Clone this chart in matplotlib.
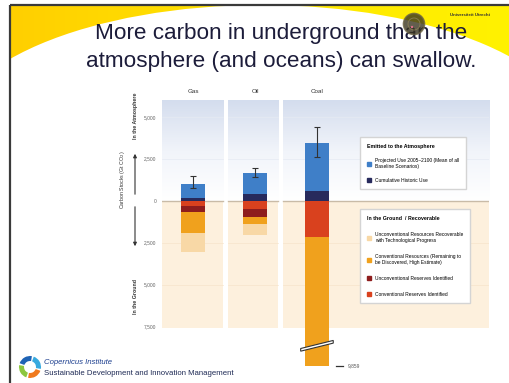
import numpy as np
import matplotlib
matplotlib.use('Agg')
import matplotlib.pyplot as plt
from matplotlib.patches import Patch, Ellipse, Wedge, Circle, Polygon, Rectangle
from matplotlib.colors import LinearSegmentedColormap

# carbon stocks, Gt CO2
fuels = ['Gas', 'Oil', 'Coal']
historic_use = [180, 400, 580]          # cumulative historic use
projected_use = [800, 1230, 2870]       # projected use 2005-2100
err_low = [775, 1390, 2580]
err_high = [1470, 1930, 4400]
conv_reserves = [315, 495, 2140]        # conventional reserves identified
unconv_reserves = [335, 455, 0]         # unconventional reserves identified
conv_resources = [1290, 440, 7719]      # conventional resources, high estimate
unconv_resources = [1090, 650, 0]       # unconventional resources w/ tech progress
coal_total_label = '9,859'

ytick_vals = [5000, 2500, 0, -2500, -5000, -7500]
ytick_text = ['5,000', '2,500', '0', '2,500', '5,000', '7,500']

c_blue = '#3f7fc8'
c_navy = '#272a5c'
c_red = '#d9411e'
c_dred = '#8e1d1d'
c_orange = '#f0a11d'
c_tan = '#f8d8a6'

W, H = 510, 383
fig = plt.figure(figsize=(W / 100, H / 100), dpi=100)
fig.patch.set_facecolor('white')

# slide background (pixel coordinates)
bg = fig.add_axes([0, 0, 1, 1], zorder=0)
bg.set_xlim(0, W)
bg.set_ylim(H, 0)
bg.axis('off')

swoosh = LinearSegmentedColormap.from_list('sw', ['#ffcf00', '#ffe600', '#fff200'])
bg.imshow(np.linspace(0, 1, 200).reshape(1, -1), cmap=swoosh, aspect='auto',
          extent=[10, W, 75, 5], zorder=1)
bg.add_patch(Ellipse((262, 140), 630, 270, facecolor='white', edgecolor='none', zorder=2))
bg.set_xlim(0, W)
bg.set_ylim(H, 0)
bg.plot([10, W], [5, 5], color='#3a3a3a', lw=1.6, zorder=5, solid_capstyle='butt')
bg.plot([10, 10], [5, H], color='#3a3a3a', lw=1.6, zorder=5, solid_capstyle='butt')

tfont = ['Liberation Sans', 'DejaVu Sans']
bg.text(281, 33, 'More carbon in underground than the', ha='center', va='center',
        fontsize=16.2, color='#1c1c3a', family=tfont, zorder=6)
bg.text(281, 61, 'atmosphere (and oceans) can swallow.', ha='center', va='center',
        fontsize=16.2, color='#1c1c3a', family=tfont, zorder=6)

# university emblem, top right
bg.add_patch(Circle((414, 24), 10.5, facecolor='#3b3622', edgecolor='#6a6244',
                    lw=1.2, alpha=0.8, zorder=7))
bg.add_patch(Circle((414, 24), 6, facecolor='none', edgecolor='#8a7e55', lw=0.6, zorder=8))
bg.add_patch(Circle((412, 27), 1.2, facecolor='#e0708a', edgecolor='none', zorder=8))
bg.text(470, 15.5, 'Universiteit Utrecht', fontsize=3.2, color='#333333', ha='center',
        va='center', fontweight='bold', family=tfont, zorder=8)

# institute logo, bottom left
ring = [(20, 100, '#f07a1e'), (110, 190, '#8cc63f'), (200, 280, '#1f63b5'), (290, 370, '#38a9de')]
for a0, a1, col in ring:
    bg.add_patch(Wedge((30, 367), 11, a0, a1, width=5, facecolor=col, edgecolor='none', zorder=6))
bg.text(44, 363, 'Copernicus Institute', fontsize=5.6, style='italic', color='#1d3f8f',
        va='center', family=tfont, zorder=6)
bg.text(44, 373.5, 'Sustainable Development and Innovation Management', fontsize=5.6,
        color='#1e2a55', va='center', family=tfont, zorder=6)

# left-hand axis annotations
sfont = ['Liberation Sans Narrow', 'Liberation Sans', 'DejaVu Sans']
bg.text(136, 116, 'In the Atmosphere', rotation=90, ha='center', va='center',
        fontsize=3.8, color='#333333', fontweight='bold', family=sfont, zorder=6)
bg.text(123, 180, 'Carbon Stocks (Gt CO$_2$)', rotation=90, ha='center', va='center',
        fontsize=3.8, color='#333333', family=sfont, zorder=6)
bg.text(136, 296, 'In the Ground', rotation=90, ha='center', va='center',
        fontsize=3.8, color='#333333', fontweight='bold', family=sfont, zorder=6)
bg.annotate('', xy=(135, 151), xytext=(135, 197), zorder=6,
            arrowprops=dict(arrowstyle='-|>', color='#333333', lw=0.8, mutation_scale=5))
bg.annotate('', xy=(135, 249), xytext=(135, 204), zorder=6,
            arrowprops=dict(arrowstyle='-|>', color='#333333', lw=0.8, mutation_scale=5))

# chart axes: 0 Gt at y=200.7 px, 2500 Gt per 42 px
ax = fig.add_axes([162 / W, 1 - 372 / H, (489 - 162) / W, 272 / H], zorder=1)
ax.patch.set_alpha(0)
x = np.arange(len(fuels))
panels = [(-0.5, 0.484), (0.564, 1.37), (1.45, 4.77)]
y_top, y_bot = 6000, -7600

sky = LinearSegmentedColormap.from_list('sky', ['#ffffff', '#f1f4fa', '#d4ddee'])
for x0, x1 in panels:
    ax.imshow(np.linspace(0, 1, 100).reshape(-1, 1), cmap=sky, origin='lower',
              aspect='auto', extent=[x0, x1, 0, y_top], zorder=0)
    ax.add_patch(Rectangle((x0, y_bot), x1 - x0, -y_bot, facecolor='#fdf0dd',
                           edgecolor='none', zorder=0))
    for g in [2500, 5000]:
        ax.plot([x0, x1], [g, g], color='#e6eaf3', lw=0.5, zorder=0.5)
    for g in [-2500, -5000]:
        ax.plot([x0, x1], [g, g], color='#f6e4cb', lw=0.5, zorder=0.5)
    ax.plot([x0, x1], [0, 0], color='#c9bba7', lw=1.0, zorder=0.6)

bw = 0.38
hist = np.array(historic_use)
proj = np.array(projected_use)
ax.bar(x, hist, bw, color=c_navy, zorder=2)
ax.bar(x, proj, bw, bottom=hist, color=c_blue, zorder=2)
top = hist + proj
ax.errorbar(x, top, yerr=[top - np.array(err_low), np.array(err_high) - top],
            fmt='none', ecolor='#333333', elinewidth=0.8, capsize=2, capthick=0.8, zorder=3)

base = np.zeros(len(fuels))
for vals, col in [(conv_reserves, c_red), (unconv_reserves, c_dred),
                  (conv_resources, c_orange), (unconv_resources, c_tan)]:
    v = np.array(vals)
    ax.bar(x, -v, bw, bottom=base, color=col, zorder=2)
    base = base - v

# axis break on the coal bar
ax.add_patch(Polygon([(1.735, -8960), (2.26, -8480), (2.26, -8320), (1.735, -8800)],
                     closed=True, facecolor='white', edgecolor='#333333', lw=0.8, zorder=4))
ax.plot([2.31, 2.42], [base[2], base[2]], color='#333333', lw=0.9, zorder=3)
ax.text(2.5, base[2], coal_total_label, fontsize=3.5, color='#555555', va='center',
        family=sfont)

ax.set_xlim(-0.5, 4.77)
ax.set_ylim(-10200, 6000)
ax.set_yticks(ytick_vals)
ax.set_yticklabels(ytick_text, fontsize=3.5, color='#666666', family=sfont)
ax.xaxis.tick_top()
ax.set_xticks(x)
ax.set_xticklabels(fuels, fontsize=4.5, color='#333333', family=sfont)
ax.tick_params(length=0, pad=4)
for s in ax.spines.values():
    s.set_visible(False)

lkw = dict(title_fontsize=3.8, alignment='left', frameon=True, fancybox=False,
           edgecolor='#d4d4d4', facecolor='white', framealpha=1, handlelength=0.9,
           handleheight=0.9, handletextpad=0.8, borderpad=1.3,
           loc='upper left', bbox_transform=fig.transFigure, prop={'family': sfont, 'size': 3.5})
leg1 = ax.legend(handles=[Patch(color=c_blue), Patch(color=c_navy)],
                 labels=['Projected Use 2005\u20132100 (Mean of all\nBaseline Scenarios)',
                         'Cumulative Historic Use'],
                 title='Emitted to the Atmosphere', labelspacing=1.9,
                 bbox_to_anchor=(358 / W, 1 - 135 / H), **lkw)
leg1.get_title().set_fontweight('bold')
leg1.get_title().set_family(sfont)
ax.add_artist(leg1)
leg2 = ax.legend(handles=[Patch(color=c_tan), Patch(color=c_orange),
                          Patch(color=c_dred), Patch(color=c_red)],
                 labels=['Unconventional Resources Recoverable\nwith Technological Progress',
                         'Conventional Resources (Remaining to\nbe Discovered, High Estimate)',
                         'Unconventional Reserves Identified',
                         'Conventional Reserves Identified'],
                 title='In the Ground  / Recoverable', labelspacing=2.3,
                 bbox_to_anchor=(358 / W, 1 - 207 / H), **lkw)
leg2.get_title().set_fontweight('bold')
leg2.get_title().set_family(sfont)

fig.savefig('out.png', dpi=100)
